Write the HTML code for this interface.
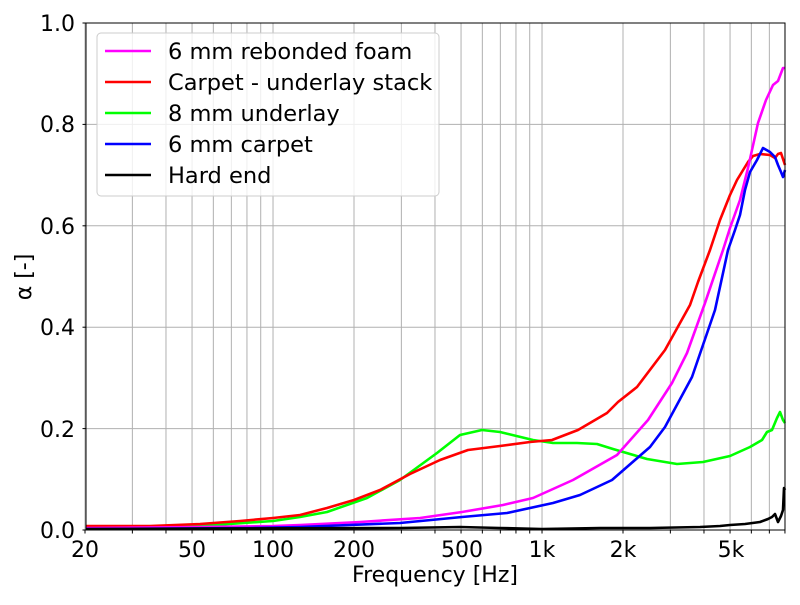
<!DOCTYPE html>
<html><head><meta charset="utf-8"><style>
html,body{margin:0;padding:0;background:#fff;}
svg text{font-family:"DejaVu Sans","Liberation Sans",sans-serif;fill:#000;}
</style></head><body>
<svg width="800" height="600" viewBox="0 0 800 600" xmlns="http://www.w3.org/2000/svg">
<rect width="800" height="600" fill="#fff"/>
<g stroke="#b0b0b0" stroke-width="1" id="grid"></g>
<g fill="none" stroke-width="2.6" stroke-linejoin="round">
<polyline stroke="#00ff00" points="86,528 200,526 273,521 300,517 327,512 367,498 400,480 437,453 460,435 482,430 500,432 533,440 553,443 577,443 597,444 613,449 647,459 677,464 703,462 730,456 750,447 762,440 767,432 772,430 777,418 780,412 783,420 785,423"/>
<polyline stroke="#ff0000" points="86,526 150,526 200,524 240,521 273,518 300,515 327,508 354,500 380,490 410,474 440,460 468,450 500,446 530,442 552,440 578,430 607,413 615,405 618,402 637,387 665,350 690,305 698,282 710,250 720,220 730,195 737,180 748,162 753,156 760,154 770,155 775,158 778,154 781,153 785,165"/>
<polyline stroke="#ff00ff" points="86,528 200,527 273,526 300,525 360,522 420,518 462,512 503,505 533,498 573,480 617,455 648,420 672,383 687,353 705,303 723,250 730,228 740,200 748,168 758,123 766,100 773,85 778,81 783,68 785,68"/>
<polyline stroke="#0000ff" points="86,529 250,528 300,527 400,523 462,517 507,513 553,503 580,495 612,480 650,447 665,427 692,377 715,310 728,250 735,230 740,215 745,190 750,172 757,160 763,148 770,152 775,157 778,165 781,172 783,177 785,170"/>
<polyline stroke="#000000" points="86,529 400,528 460,527 500,528 542,529 600,528 650,528 700,527 720,526 730,525 745,524 760,522 768,519 772,517 775,514 778,522 781,516 783,510 784,488 785,490"/>
</g>
<rect x="86" y="23" width="699" height="507" fill="none" stroke="#000" stroke-width="1"/>
<g id="ticks" stroke="#000" stroke-width="1"></g>
<g font-size="22" text-anchor="end">
<text x="75" y="538">0.0</text><text x="75" y="437">0.2</text><text x="75" y="335">0.4</text><text x="75" y="234">0.6</text><text x="75" y="132">0.8</text><text x="75" y="31">1.0</text>
</g>
<g font-size="22" text-anchor="middle">
<text x="85" y="557">20</text><text x="192" y="557">50</text><text x="273" y="557">100</text><text x="354" y="557">200</text><text x="462" y="557">500</text><text x="542" y="557">1k</text><text x="623" y="557">2k</text><text x="731" y="557">5k</text>
<text x="435" y="582">Frequency [Hz]</text>
<text transform="translate(31,277) rotate(-90)">α [-]</text>
</g>
<rect x="97" y="33" width="342" height="163" rx="4" fill="#fff" fill-opacity="0.8" stroke="#cccccc" stroke-width="1"/>
<g stroke-width="2.6">
<line x1="105" y1="51" x2="151" y2="51" stroke="#ff00ff"/>
<line x1="105" y1="82" x2="151" y2="82" stroke="#ff0000"/>
<line x1="105" y1="113" x2="151" y2="113" stroke="#00ff00"/>
<line x1="105" y1="144" x2="151" y2="144" stroke="#0000ff"/>
<line x1="105" y1="175" x2="151" y2="175" stroke="#000000"/>
</g>
<g font-size="22.5">
<text x="168" y="59">6 mm rebonded foam</text>
<text x="168" y="90">Carpet - underlay stack</text>
<text x="168" y="121">8 mm underlay</text>
<text x="168" y="152">6 mm carpet</text>
<text x="168" y="183">Hard end</text>
</g>
</svg>
<script>
(function(){
 var ns="http://www.w3.org/2000/svg",g=document.getElementById("grid"),t=document.getElementById("ticks");
 function X(f){return 85+269*Math.log10(f/20);}
 function ln(p,x1,y1,x2,y2){var l=document.createElementNS(ns,"line");l.setAttribute("x1",x1);l.setAttribute("y1",y1);l.setAttribute("x2",x2);l.setAttribute("y2",y2);p.appendChild(l);}
 [10,100,1000].forEach(function(d){for(var k=1;k<10;k++){var f=d*k;if(f<20||f>8000)continue;var x=X(f);ln(g,x,23,x,530);ln(t,x,530,x,533.5);}});
 for(var i=1;i<5;i++){var y=530-i*101.4;ln(g,86,y,785,y);}
 for(var i=0;i<=5;i++){var y=530-i*101.4;ln(t,82.5,y,86,y);}
})();
</script>
</body></html>
